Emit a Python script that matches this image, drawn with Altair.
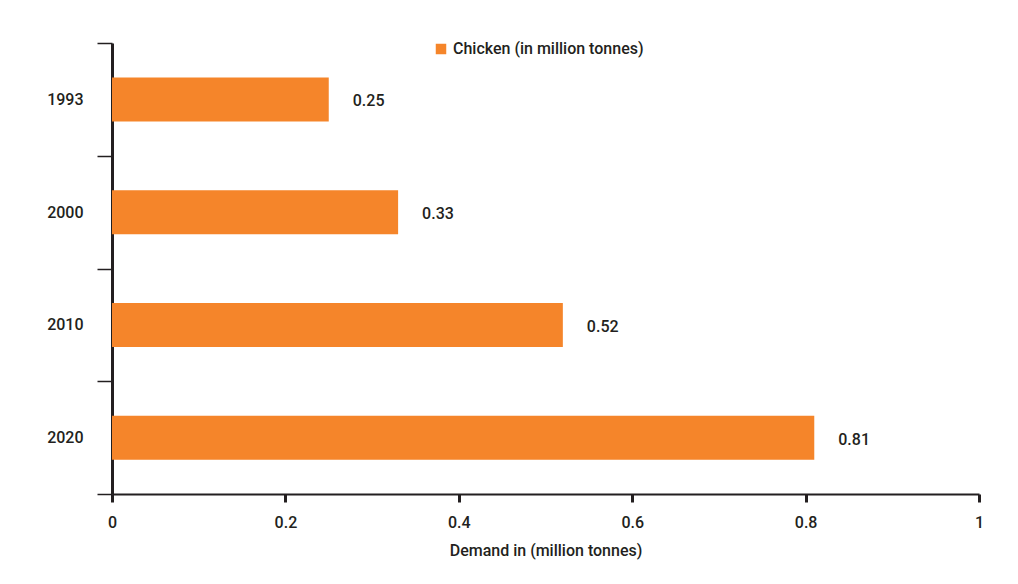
import altair as alt
import pandas as pd

years = ["1993", "2000", "2010", "2020"]
demand = [0.25, 0.33, 0.52, 0.81]
series_name = "Chicken (in million tonnes)"
x_ticks = [0, 0.2, 0.4, 0.6, 0.8, 1]

df = pd.DataFrame({"year": years, "demand": demand, "series": [series_name] * len(years)})

ORANGE = "#F5852A"
INK = "#231F20"
TEXT = "#231F20"
FONT = "Roboto"
WEIGHT = 500

base = alt.Chart(df)

bars = base.mark_bar(size=44).encode(
    y=alt.Y(
        "year:N",
        sort=years,
        scale=alt.Scale(paddingInner=0, paddingOuter=0),
        axis=alt.Axis(
            title=None,
            tickBand="extent",
            tickSize=15,
            tickWidth=1.5,
            tickColor=INK,
            domainColor=INK,
            domainWidth=3,
            labelPadding=14,
            labelFontSize=16,
            labelFontWeight=WEIGHT,
            labelColor=TEXT,
            labelFont=FONT,
        ),
    ),
    x=alt.X(
        "demand:Q",
        scale=alt.Scale(domain=[0, 1], nice=False),
        axis=alt.Axis(
            values=x_ticks,
            format="~g",
            labelFlush=False,
            title="Demand in (million tonnes)",
            titleFont=FONT,
            titleFontSize=16,
            titleFontWeight=WEIGHT,
            titleColor=TEXT,
            titlePadding=12,
            grid=False,
            tickSize=8,
            tickWidth=3,
            tickColor=INK,
            domainColor=INK,
            domainWidth=2,
            labelPadding=12,
            labelFontSize=16,
            labelFontWeight=WEIGHT,
            labelColor=TEXT,
            labelFont=FONT,
        ),
    ),
    color=alt.Color(
        "series:N",
        scale=alt.Scale(domain=[series_name], range=[ORANGE]),
        legend=alt.Legend(
            title=None,
            orient="none",
            legendX=321,
            legendY=-2,
            symbolType="square",
            symbolSize=110,
            symbolStrokeWidth=0,
            labelFontSize=16,
            labelFontWeight=WEIGHT,
            labelFont=FONT,
            labelColor=TEXT,
            labelOffset=4,
            labelLimit=500,
            padding=0,
        ),
    ),
)

labels = base.mark_text(
    align="left", baseline="middle", dx=24, dy=2, fontSize=16, fontWeight=WEIGHT, font=FONT, color=TEXT
).encode(
    y=alt.Y("year:N", sort=years),
    x="demand:Q",
    text=alt.Text("demand:Q", format=".2f"),
)

chart = (
    alt.layer(bars, labels)
    .properties(
        width=867,
        height=451,
        autosize=alt.AutoSizeParams(type="none"),
        padding={"left": 104, "top": 35, "right": 30, "bottom": 80},
        background="white",
    )
    .configure_view(stroke=None)
)

chart.save("out.html", embed_options={"renderer": "svg", "actions": False})
